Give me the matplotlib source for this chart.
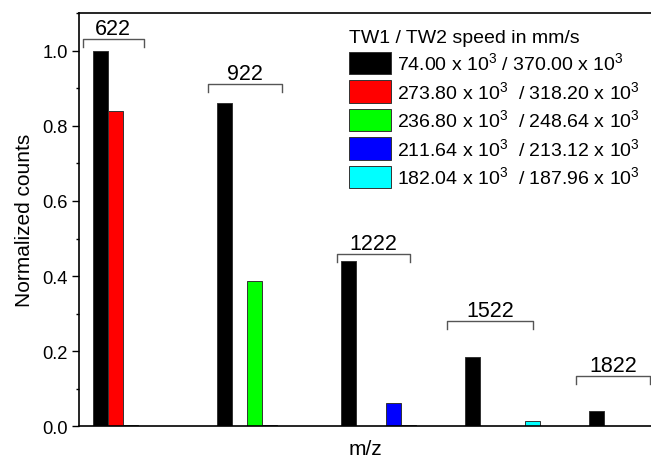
import numpy as np
import matplotlib.pyplot as plt
from matplotlib.ticker import MultipleLocator

plt.rcParams['font.family'] = ['Liberation Sans', 'DejaVu Sans']
plt.rcParams['mathtext.fontset'] = 'custom'
plt.rcParams['mathtext.rm'] = 'Liberation Sans'
plt.rcParams['mathtext.it'] = 'Liberation Sans'

# m/z groups and normalized counts for each TW1/TW2 speed setting
groups = ['622', '922', '1222', '1522', '1822']
black = [1.000, 0.861, 0.439, 0.185, 0.040]
red   = [0.840, 0.001, 0.001, 0.002, 0.002]
green = [0.003, 0.387, 0.001, 0.001, 0.001]
blue  = [0.002, 0.004, 0.063, 0.002, 0.001]
cyan  = [0.002, 0.002, 0.003, 0.014, 0.001]
labels = [r'74.00 x 10$^3$ / 370.00 x 10$^3$',
          r'273.80 x 10$^3$  / 318.20 x 10$^3$',
          r'236.80 x 10$^3$  / 248.64 x 10$^3$',
          r'211.64 x 10$^3$  / 213.12 x 10$^3$',
          r'182.04 x 10$^3$  / 187.96 x 10$^3$']
colors = ['#000000', '#ff0000', '#00ff00', '#0000ff', '#00ffff']

# bracket heights / spans over each group (annotation)
br_y = [1.030, 0.910, 0.458, 0.280, 0.134]
br_x0 = [-0.08, 0.93, 1.97, 2.86, 3.90]
br_x1 = [0.41, 1.53, 2.56, 3.55, 4.49]

fig = plt.figure(figsize=(6.51, 4.60), dpi=100)
ax = fig.add_axes([0.1214, 0.0707, 0.8786, 0.899])

x = np.arange(len(groups))
w = 0.121
series = [black, red, green, blue, cyan]
for i, (vals, c, lab) in enumerate(zip(series, colors, labels)):
    ax.bar(x + i * w, vals, width=w, align='edge', color=c,
           edgecolor='#333333', linewidth=0.7, label=lab)

for i, g in enumerate(groups):
    ax.plot([br_x0[i], br_x0[i], br_x1[i], br_x1[i]],
            [br_y[i] - 0.02, br_y[i], br_y[i], br_y[i] - 0.02],
            color='#555555', lw=1.0)
    ax.text((br_x0[i] + br_x1[i]) / 2, br_y[i] + 0.013, g,
            ha='center', va='baseline', fontsize=15.5)

ax.set_xlim(-0.11, 4.502)
ax.set_ylim(0, 1.1)
ax.set_xticks([])
ax.yaxis.set_major_locator(MultipleLocator(0.2))
ax.yaxis.set_minor_locator(MultipleLocator(0.1))
ax.tick_params(axis='y', which='major', length=5.3, width=1.0, labelsize=13.2,
               direction='out', pad=3)
ax.tick_params(axis='y', which='minor', length=2.4, width=1.0, direction='out')
ax.spines['right'].set_visible(False)
for s in ['left', 'top', 'bottom']:
    ax.spines[s].set_linewidth(1.2)

ax.set_ylabel('Normalized counts', fontsize=15, labelpad=6)
ax.set_xlabel('m/z', fontsize=15, labelpad=9)

leg = ax.legend(title='TW1 / TW2 speed in mm/s', loc='upper left',
                bbox_to_anchor=(0.472, 0.962), frameon=False, fontsize=14,
                title_fontsize=14, handlelength=2.17, handleheight=1.4,
                handletextpad=0.3, labelspacing=0.3, borderaxespad=0,
                borderpad=0, alignment='left')

plt.savefig('out.png', dpi=100)
